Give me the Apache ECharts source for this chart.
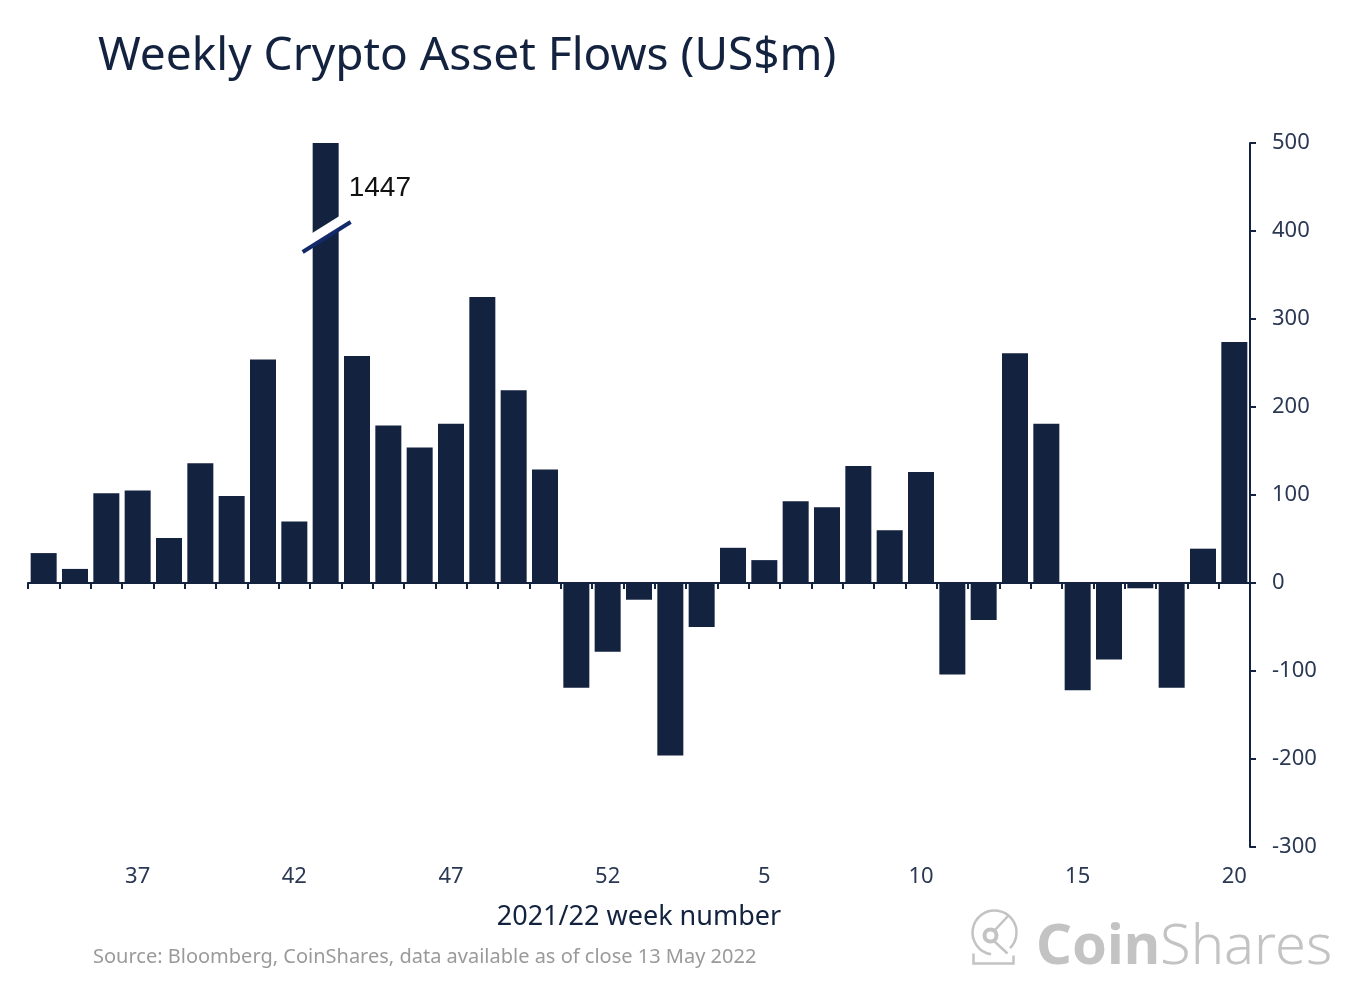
<!DOCTYPE html>
<html>
<head>
<meta charset="utf-8">
<script src="https://cdn.jsdelivr.net/npm/echarts@6/dist/echarts.min.js"></script>
<style>
  html, body { margin: 0; padding: 0; background: #ffffff; }
  #chart { width: 1352px; height: 991px; }
</style>
</head>
<body>
<div id="chart"></div>
<script>
// ---- data ----
const weeks = ['34','35','36','37','38','39','40','41','42','43','44','45','46','47','48','49','50','51','52',
               '1','2','3','4','5','6','7','8','9','10','11','12','13','14','15','16','17','18','19','20'];
const flows = [34, 16, 102, 105, 51, 136, 99, 254, 70, 1447, 258, 179, 154, 181, 325, 219, 129, -119, -78,
               -19, -196, -50, 40, 26, 93, 86, 133, 60, 126, -104, -42, 261, 181, -122, -87, -6, -119, 39, 274];
const yTicks = { min: -300, max: 500, interval: 100 };
const titleText = 'Weekly Crypto Asset Flows (US$m)';
const xAxisName = '2021/22 week number';
const sourceText = 'Source: Bloomberg, CoinShares, data available as of close 13 May 2022';

// ---- style ----
const NAVY = '#13223f';
const AXIS_TXT = '#2b3853';
const FONT = 'Noto Sans';

// bars exceeding the axis max get a break marker
const broken = flows.map((v, i) => [i, v]).filter(d => d[1] > yTicks.max);

const chart = echarts.init(document.getElementById('chart'), null, { renderer: 'canvas' });

const option = {
  backgroundColor: '#ffffff',
  animation: false,
  title: {
    text: titleText,
    left: 93, top: 29,
    textStyle: { fontFamily: FONT, fontSize: 46, fontWeight: 'normal', color: NAVY }
  },
  grid: { left: 28, right: 102, top: 143, bottom: 144, containLabel: false },
  xAxis: [
    {
      type: 'category', data: weeks, boundaryGap: true,
      axisLine: { show: true, onZero: true, lineStyle: { color: NAVY, width: 2 } },
      axisTick: { show: true, interval: 0, length: 6, lineStyle: { color: NAVY, width: 2 } },
      axisLabel: { show: false },
      splitLine: { show: false }
    },
    {
      type: 'category', data: weeks, boundaryGap: true, position: 'bottom',
      axisLine: { show: false, onZero: false },
      axisTick: { show: false },
      axisLabel: {
        interval: (i) => i % 5 === 3,
        margin: 19, fontFamily: FONT, fontSize: 22, color: AXIS_TXT
      },
      name: xAxisName, nameLocation: 'middle', nameGap: 57,
      nameTextStyle: { fontFamily: FONT, fontSize: 27, color: NAVY }
    }
  ],
  yAxis: {
    type: 'value', position: 'right',
    min: yTicks.min, max: yTicks.max, interval: yTicks.interval,
    axisLine: { show: true, lineStyle: { color: NAVY, width: 2 } },
    axisTick: { show: true, length: 6, lineStyle: { color: NAVY, width: 2 } },
    axisLabel: { margin: 22, fontFamily: FONT, fontSize: 22, color: AXIS_TXT },
    splitLine: { show: false }
  },
  series: [
    {
      type: 'bar', xAxisIndex: 0, data: flows, barWidth: 26, clip: true,
      itemStyle: { color: NAVY }
    },
    {
      type: 'custom', xAxisIndex: 0, data: broken, z: 5, clip: false,
      renderItem: function (params, api) {
        const idx = api.value(0);
        const val = api.value(1);
        const top = api.coord([idx, yTicks.max]);
        const brk = api.coord([idx, yTicks.max * 0.785]);
        const cx = brk[0], by = brk[1];
        const s = 0.625;
        return {
          type: 'group',
          children: [
            { type: 'polygon', shape: { points: [
                [cx - 15, by + 15 * s], [cx + 15, by - 15 * s],
                [cx + 15, by - 15 * s - 13], [cx - 15, by + 15 * s - 13]] },
              style: { fill: '#ffffff' } },
            { type: 'line', shape: { x1: cx - 23, y1: by + 23 * s, x2: cx + 25, y2: by - 25 * s },
              style: { stroke: '#12296a', lineWidth: 4 } },
            { type: 'text', x: cx + 23, y: top[1] + 45,
              style: { text: String(val), fontFamily: 'Liberation Sans', fontSize: 28,
                       fill: '#111111', verticalAlign: 'middle', align: 'left' } }
          ]
        };
      }
    }
  ],
  graphic: [
    { type: 'text', left: 93, top: 947,
      style: { text: sourceText, fontFamily: FONT, fontSize: 20, fill: '#9a9a9a' } },
    { type: 'group', left: 970, top: 908, children: [
      { type: 'arc', shape: { cx: 25, cy: 27, r: 22, startAngle: Math.PI * 0.55, endAngle: Math.PI * 2.25 },
        style: { stroke: '#c3c3c3', lineWidth: 2.5, fill: null } },
      { type: 'circle', shape: { cx: 21, cy: 30, r: 6 },
        style: { stroke: '#c3c3c3', lineWidth: 4, fill: null } },
      { type: 'line', shape: { x1: 25, y1: 25, x2: 39, y2: 10 }, style: { stroke: '#c3c3c3', lineWidth: 2.5 } },
      { type: 'line', shape: { x1: 25, y1: 36, x2: 38, y2: 48 }, style: { stroke: '#c3c3c3', lineWidth: 2.5 } },
      { type: 'polyline', shape: { points: [[4, 48], [4, 58], [44, 58], [44, 50]] },
        style: { stroke: '#c3c3c3', lineWidth: 2.5, fill: null } }
    ] },
    { type: 'text', left: 1036, top: 920,
      style: {
        text: '{b|Coin}{l|Shares}',
        rich: {
          b: { fontFamily: FONT, fontSize: 56, fontWeight: 'bold', fill: '#c3c3c3' },
          l: { fontFamily: FONT, fontSize: 56, fontWeight: 300, fill: '#c3c3c3' }
        }
      } }
  ]
};

chart.setOption(option);
</script>
</body>
</html>
